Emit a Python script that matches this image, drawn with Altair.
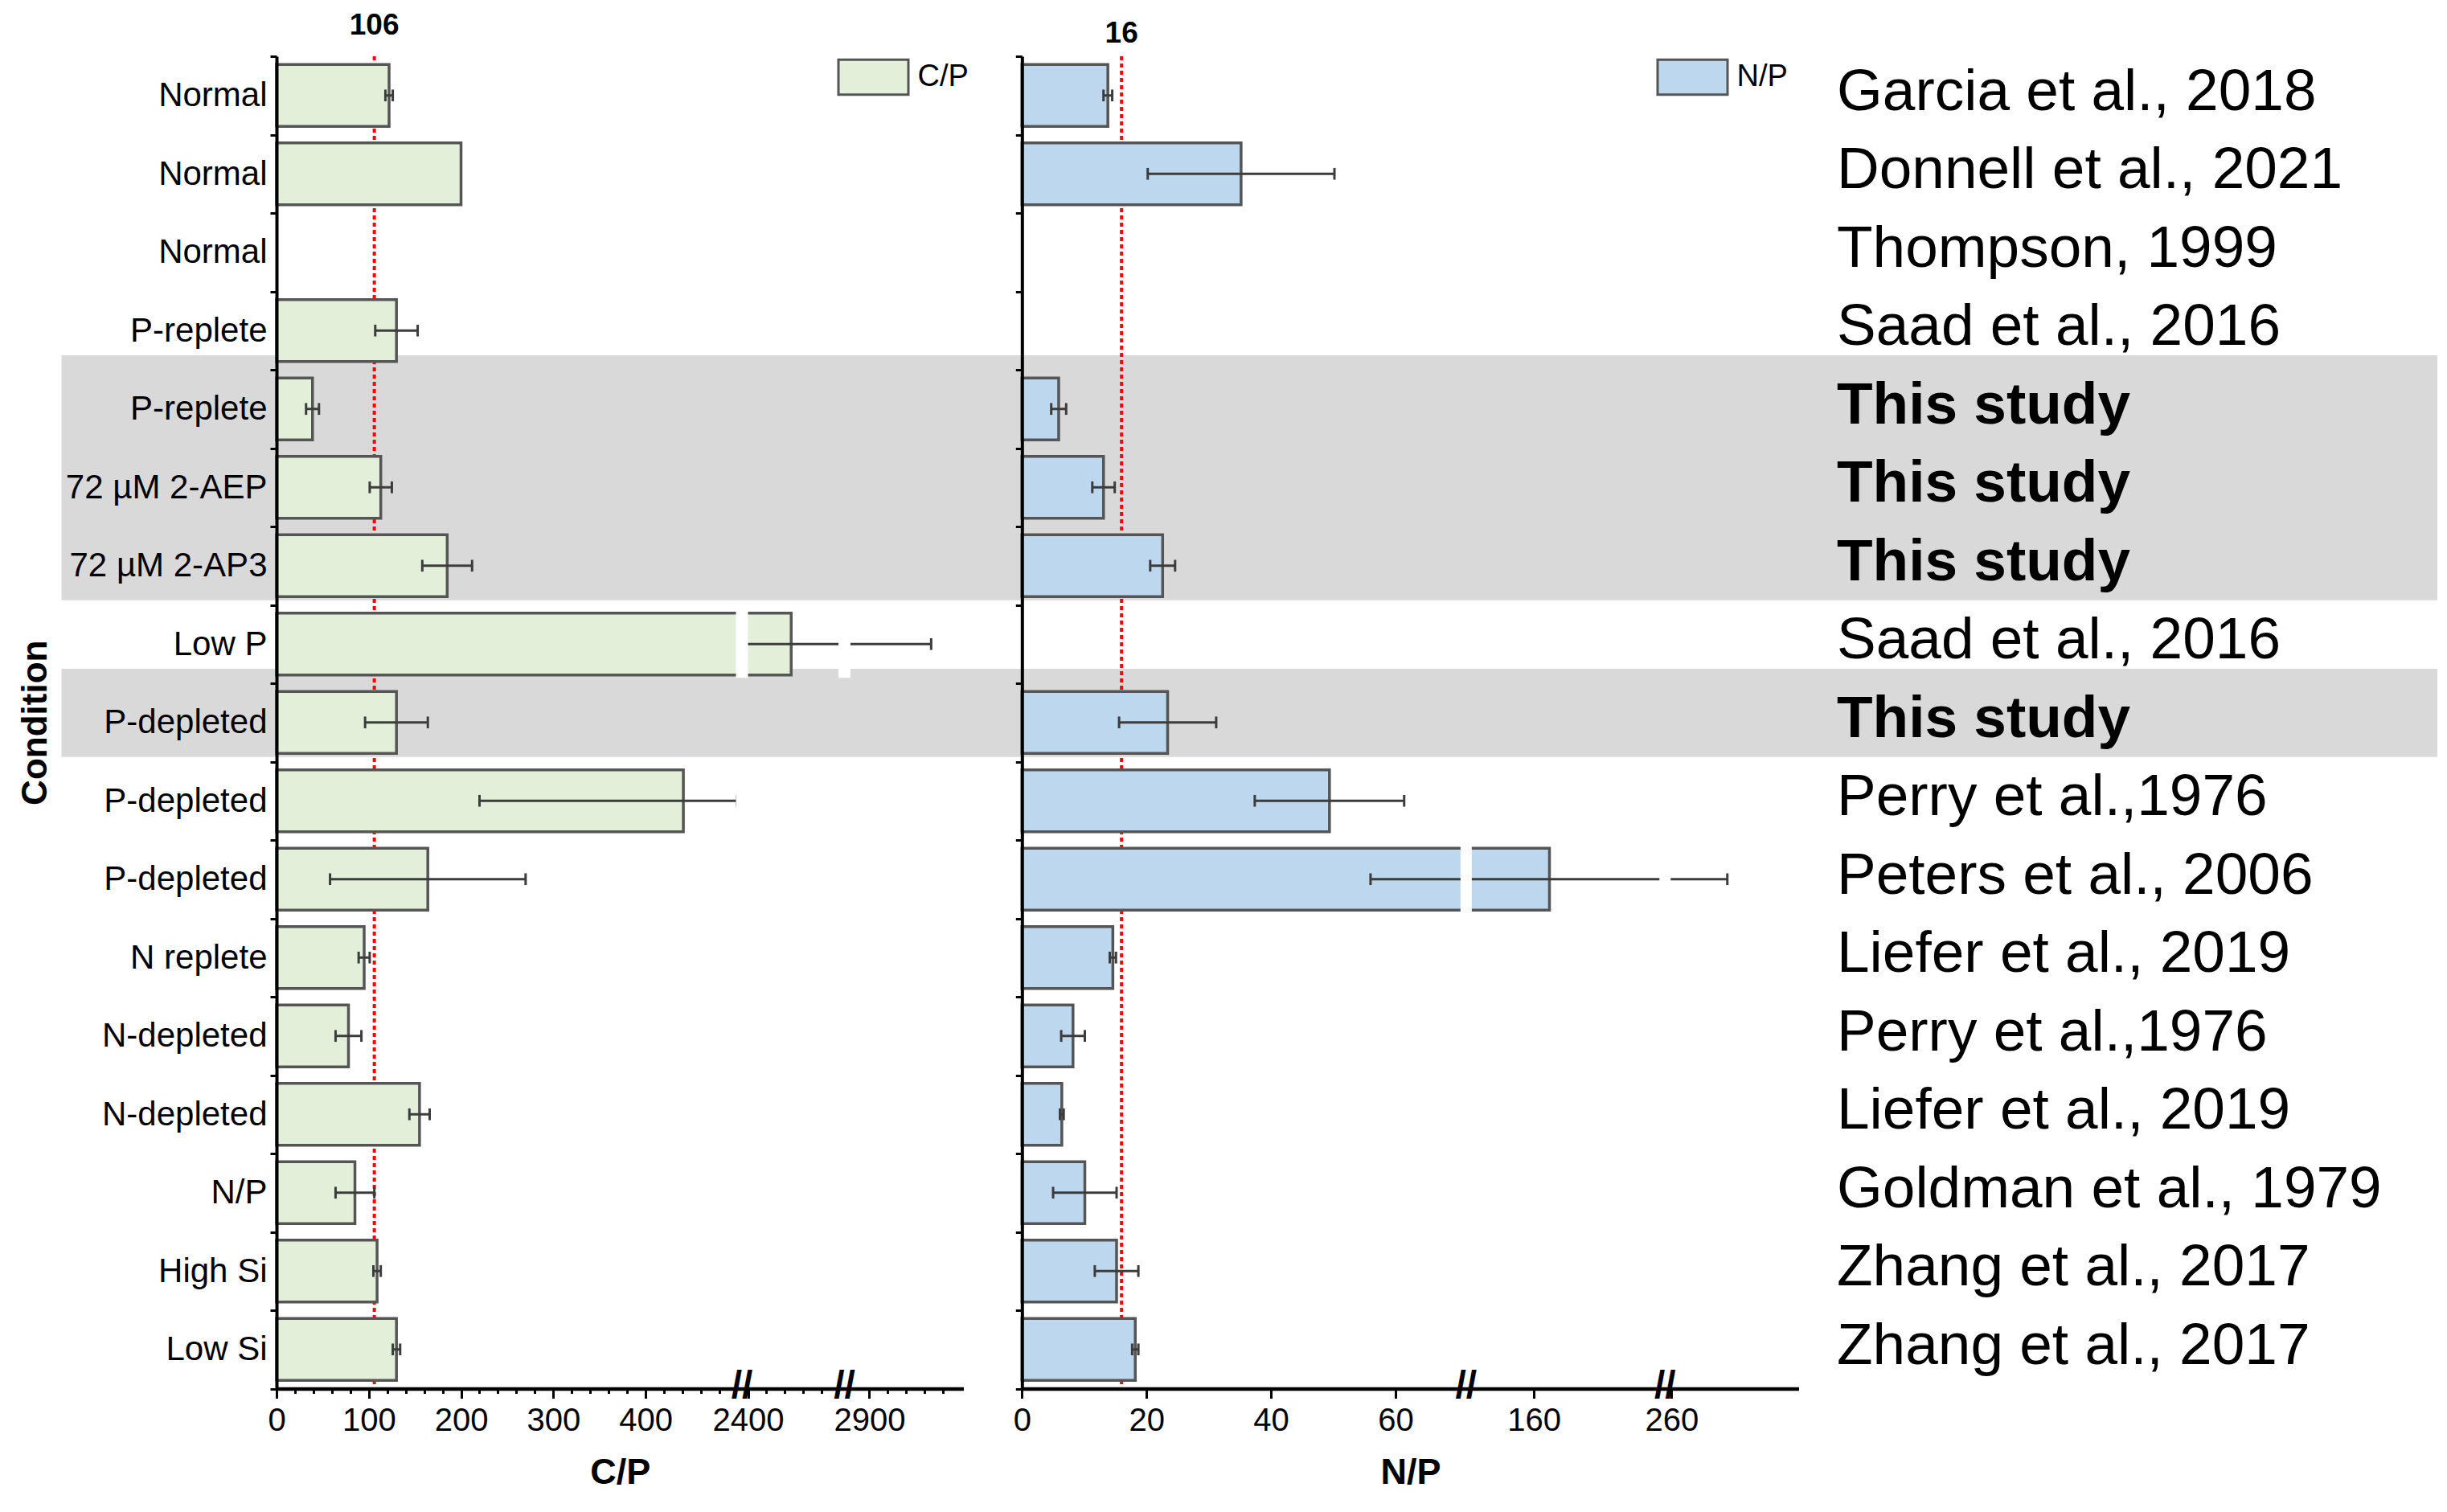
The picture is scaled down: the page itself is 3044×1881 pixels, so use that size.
import json
import altair as alt
import pandas as pd

FONT = "Liberation Sans"

# ---------------- data ----------------
conditions = ["Normal", "Normal", "Normal", "P-replete", "P-replete",
              "72 µM 2-AEP", "72 µM 2-AP3", "Low P", "P-depleted", "P-depleted",
              "P-depleted", "N replete", "N-depleted", "N-depleted", "N/P",
              "High Si", "Low Si"]
references = ["Garcia et al., 2018", "Donnell et al., 2021", "Thompson, 1999",
              "Saad et al., 2016", "This study", "This study", "This study",
              "Saad et al., 2016", "This study", "Perry et al.,1976",
              "Peters et al., 2006", "Liefer et al., 2019", "Perry et al.,1976",
              "Liefer et al., 2019", "Goldman et al., 1979", "Zhang et al., 2017",
              "Zhang et al., 2017"]
cp_mean = [122, 200, None, 130, 39, 113, 185, 2447, 130, 441, 164, 95, 78, 155, 85, 109, 130]
cp_sd = [4, None, None, 23, 7, 12, 27, 520, 34, 221, 106, 6, 14, 11, 21, 4, 4]
np_mean = [13.8, 35.2, None, None, 5.9, 13.1, 22.6, None, 23.4, 49.4, 162.5, 14.6, 8.2, 6.4, 10.1, 15.2, 18.2]
np_sd = [0.7, 15, None, None, 1.2, 1.8, 2.0, None, 7.8, 12, 106.5, 0.5, 1.9, 0.3, 5.1, 3.5, 0.5]
highlight_groups = [[4, 5, 6], [8]]

cp_ref = 106
np_ref = 16

cp_major = [0, 100, 200, 300, 400, 2400, 2900]
cp_minor = [v for v in range(20, 500, 20) if v % 100] + [2420, 2440, 2460, 2480] + [2920, 2940, 2960, 2980]
np_major = [0, 20, 40, 60, 160, 260]

# broken-axis piecewise scales (domain segments -> pixel range segments)
cp_domain = [0, 498, 2400, 2498, 2880, 3002]
cp_range = [0, 571.5, 586.5, 698.5, 714.5, 854.5]
np_domain = [0, 70.5, 150, 180, 260, 280.5]
np_range = [927.3, 1473.2, 1486.5, 1719.3, 1735.3, 1893.5]

W = 2688
H = 1657.5
N = len(conditions)

CP_FILL = "#e2f0d9"
NP_FILL = "#bdd7ee"
EDGE = "#555555"
ERR = "#3c3c3c"
BAND = "#d9d9d9"

# ---------------- tables ----------------
df = pd.DataFrame({
    "row": list(range(N)),
    "condition": conditions,
    "reference": references,
    "cp": cp_mean,
    "cp_sd": cp_sd,
    "np": np_mean,
    "np_sd": np_sd,
}).astype({"cp": float, "cp_sd": float, "np": float, "np_sd": float})

band_df = pd.DataFrame([{"top": g[0] - 0.685, "bottom": g[-1] + 0.44} for g in highlight_groups])

cp_lo_ends = [cp_domain[1], cp_domain[3]]
cp_mids = [(cp_domain[1] + cp_domain[2]) / 2, (cp_domain[3] + cp_domain[4]) / 2]
np_lo_ends = [np_domain[1], np_domain[3]]
np_mids = [(np_domain[1] + np_domain[2]) / 2, (np_domain[3] + np_domain[4]) / 2]


def gaps(means, sds, ends, mids):
    out = []
    for i, (m, s) in enumerate(zip(means, sds)):
        if m is None:
            continue
        ext = m + (s or 0)
        for e, mid in zip(ends, mids):
            if ext > e:
                out.append({"row": i, "xm": mid})
    return pd.DataFrame(out, columns=["row", "xm"])


cp_gap_df = gaps(cp_mean, cp_sd, cp_lo_ends, cp_mids)
np_gap_df = gaps(np_mean, np_sd, np_lo_ends, np_mids)

# ---------------- scales & axes ----------------
y_scale = alt.Scale(domain=[-0.5, N - 0.5], reverse=True, nice=False, zero=False)
cp_scale = alt.Scale(domain=cp_domain, range=cp_range, nice=False, zero=False)
np_scale = alt.Scale(domain=np_domain, range=np_range, nice=False, zero=False)

bounds = [i - 0.5 for i in range(N + 1)]
cond_expr = "(" + json.dumps(conditions) + ")[round(datum.value + 0.5)] || ''"

y_axis_main = alt.Axis(
    orient="left", values=bounds, labelExpr=cond_expr, labelOffset=H / N / 2,
    tickSize=8, tickWidth=3, tickColor="black", domainColor="black", domainWidth=4,
    labelFont=FONT, labelFontSize=42, labelColor="black", labelPadding=4, labelLimit=0,
    labelOverlap=False, labelBound=False, grid=False, zindex=1,
    minExtent=266, maxExtent=266,
    title="Condition", titleFont=FONT, titleFontSize=44, titleFontWeight="bold",
    titleColor="black", titlePadding=12,
)
y_axis_np = alt.Axis(
    orient="left", offset=-np_range[0], values=bounds, labels=False, title=None,
    tickSize=8, tickWidth=3, tickColor="black", domainColor="black", domainWidth=4,
    grid=False, zindex=1,
)

cp_major_test = "indexof(" + json.dumps(cp_major) + ", datum.value) >= 0"
cp_axis = alt.Axis(
    orient="bottom", values=sorted(cp_major + cp_minor),
    labelExpr=cp_major_test + " ? format(datum.value, 'd') : ''",
    tickSize={"condition": {"test": cp_major_test, "value": 12}, "value": 6},
    tickWidth=3, tickColor="black", domainColor="black", domainWidth=4.5,
    labelFont=FONT, labelFontSize=40, labelColor="black", labelPadding=8,
    labelFlush=False, labelOverlap=False, labelBound=False, grid=False, zindex=1,
    title="C/P", titleFont=FONT, titleFontSize=45, titleFontWeight="bold",
    titleColor="black", titlePadding=22,
)
np_axis = alt.Axis(
    orient="bottom", values=np_major, format="d",
    tickSize=12, tickWidth=3, tickColor="black", domainColor="black", domainWidth=4.5,
    labelFont=FONT, labelFontSize=40, labelColor="black", labelPadding=8,
    labelFlush=False, labelOverlap=False, labelBound=False, grid=False, zindex=1,
    title="N/P", titleFont=FONT, titleFontSize=45, titleFontWeight="bold",
    titleColor="black", titlePadding=22,
)


def legend(x):
    return alt.Legend(
        orient="none", legendX=x, legendY=-19, title=None, padding=0,
        symbolType="M-1,-0.5H1V0.5H-1Z", symbolSize=7569,
        symbolStrokeColor=EDGE, symbolStrokeWidth=3, symbolOpacity=1,
        labelFont=FONT, labelFontSize=38, labelColor="black", labelOffset=10,
    )


base = alt.Chart(df)

# gray highlight bands
bands = alt.Chart(band_df).mark_rect(color=BAND).encode(
    x=alt.value(-267.5), x2=alt.value(W),
    y=alt.Y("top:Q", scale=y_scale, axis=None), y2="bottom:Q",
)

# red reference lines + labels
ref_cp = alt.Chart(pd.DataFrame({"v": [cp_ref]}))
ref_np = alt.Chart(pd.DataFrame({"v": [np_ref]}))
ref_rule_kw = dict(color="#ff0000", strokeDash=[5, 4], strokeWidth=4)
cp_ref_line = ref_cp.mark_rule(**ref_rule_kw).encode(
    x=alt.X("v:Q", scale=cp_scale, axis=None), y=alt.value(0), y2=alt.value(H))
np_ref_line = ref_np.mark_rule(**ref_rule_kw).encode(
    x=alt.X("v:Q", scale=np_scale, axis=None), y=alt.value(0), y2=alt.value(H))
lab_kw = dict(font=FONT, fontSize=37, fontWeight="bold", color="black", baseline="middle")
cp_ref_lab = ref_cp.mark_text(**lab_kw).encode(
    x=alt.X("v:Q", scale=cp_scale, axis=None), y=alt.value(-38), text=alt.Text("v:Q", format="d"))
np_ref_lab = ref_np.mark_text(**lab_kw).encode(
    x=alt.X("v:Q", scale=np_scale, axis=None), y=alt.value(-28), text=alt.Text("v:Q", format="d"))

# bars
cp_bars = base.transform_filter("isValid(datum.cp)").transform_calculate(
    y0="datum.row - 0.395", y1="datum.row + 0.395", zero="0", series="'C/P'"
).mark_rect(stroke=EDGE, strokeWidth=3.5).encode(
    x=alt.X("cp:Q", scale=cp_scale, axis=cp_axis), x2="zero:Q",
    y=alt.Y("y0:Q", scale=y_scale, axis=y_axis_main), y2="y1:Q",
    fill=alt.Fill("series:N", scale=alt.Scale(domain=["C/P"], range=[CP_FILL]), legend=legend(697.5)),
)
np_bars = base.transform_filter("isValid(datum.np)").transform_calculate(
    y0="datum.row - 0.395", y1="datum.row + 0.395", zero="0", series="'N/P'"
).mark_rect(stroke=EDGE, strokeWidth=3.5).encode(
    x=alt.X("np:Q", scale=np_scale, axis=np_axis), x2="zero:Q",
    y=alt.Y("y0:Q", scale=y_scale, axis=y_axis_np), y2="y1:Q",
    fill=alt.Fill("series:N", scale=alt.Scale(domain=["N/P"], range=[NP_FILL]), legend=legend(1716.5)),
)


def err_layers(mean, sd, scale):
    src = base.transform_filter(f"isValid(datum.{mean}) && isValid(datum.{sd})").transform_calculate(
        lo=f"datum.{mean} - datum.{sd}", hi=f"datum.{mean} + datum.{sd}")
    line = src.mark_rule(color=ERR, strokeWidth=3).encode(
        x=alt.X("lo:Q", scale=scale, axis=None), x2="hi:Q",
        y=alt.Y("row:Q", scale=y_scale, axis=None))
    caps = src.transform_fold(["lo", "hi"], as_=["end", "xv"]).transform_calculate(
        c0="datum.row - 0.075", c1="datum.row + 0.075"
    ).mark_rule(color=ERR, strokeWidth=3).encode(
        x=alt.X("xv:Q", scale=scale, axis=None),
        y=alt.Y("c0:Q", scale=y_scale, axis=None), y2="c1:Q")
    return [line, caps]


def gap_layer(gdf, scale, width):
    return alt.Chart(gdf).transform_calculate(
        g0="datum.row - 0.43", g1="datum.row + 0.43"
    ).mark_rule(color="white", strokeWidth=width).encode(
        x=alt.X("xm:Q", scale=scale, axis=None),
        y=alt.Y("g0:Q", scale=y_scale, axis=None), y2="g1:Q")


def break_marks(mids, scale):
    return alt.Chart(pd.DataFrame({"xm": mids})).mark_text(
        text="//", font=FONT, fontSize=48, fontWeight="bold", color="black",
        baseline="middle", align="center", dy=-3
    ).encode(x=alt.X("xm:Q", scale=scale, axis=None), y=alt.value(H))


txt_kw = dict(font=FONT, fontSize=73, color="black", align="left", baseline="middle", dy=-4)
ref_normal = base.transform_filter("datum.reference !== 'This study'").mark_text(**txt_kw).encode(
    x=alt.value(1941), y=alt.Y("row:Q", scale=y_scale, axis=None), text="reference:N")
ref_bold = base.transform_filter("datum.reference === 'This study'").mark_text(
    fontWeight="bold", **txt_kw).encode(
    x=alt.value(1941), y=alt.Y("row:Q", scale=y_scale, axis=None), text="reference:N")

layers = [bands, cp_ref_line, np_ref_line, cp_ref_lab, np_ref_lab, cp_bars, np_bars]
layers += err_layers("cp", "cp_sd", cp_scale)
layers += err_layers("np", "np_sd", np_scale)
layers += [gap_layer(cp_gap_df, cp_scale, 15), gap_layer(np_gap_df, np_scale, 14)]
layers += [break_marks(cp_mids, cp_scale), break_marks(np_mids, np_scale)]
layers += [ref_normal, ref_bold]

chart = alt.layer(*layers).properties(
    width=W, height=H, background="white",
    padding={"left": 14, "top": 5, "right": 0, "bottom": 5},
).resolve_scale(
    x="independent", y="independent", fill="independent"
).configure_view(stroke=None)

chart.save("out.html", embed_options={"renderer": "svg", "actions": False})
